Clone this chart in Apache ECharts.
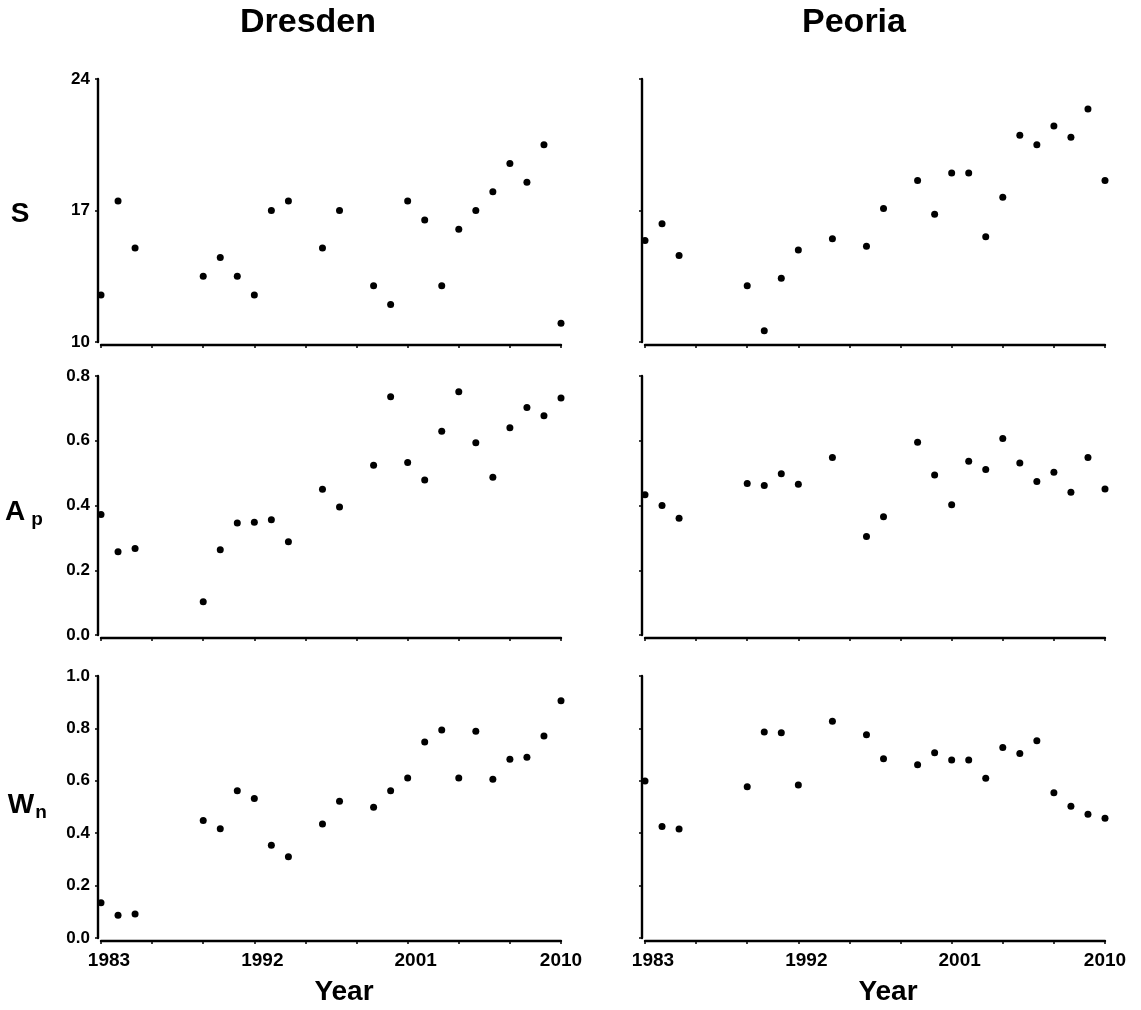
<!DOCTYPE html>
<html>
<head>
<meta charset="utf-8">
<script src="https://cdn.jsdelivr.net/npm/echarts@6/dist/echarts.min.js"></script>
<style>
  html, body { margin: 0; padding: 0; background: #fff; }
  #chart { width: 1141px; height: 1010px; }
</style>
</head>
<body>
<div id="chart"></div>
<script>
// ---- Data ----
const dresdenYears = [1983,1984,1985,1989,1990,1991,1992,1993,1994,1996,1997,1999,2000,2001,2002,2003,2004,2005,2006,2007,2008,2009,2010];
const peoriaYears  = [1983,1984,1985,1989,1990,1991,1992,1994,1996,1997,1999,2000,2001,2002,2003,2004,2005,2006,2007,2008,2009,2010];

const dresdenS  = [12.5,17.5,15.0,13.5,14.5,13.5,12.5,17.0,17.5,15.0,17.0,13.0,12.0,17.5,16.5,13.0,16.0,17.0,18.0,19.5,18.5,20.5,11.0];
const peoriaS   = [15.4,16.3,14.6,13.0,10.6,13.4,14.9,15.5,15.1,17.1,18.6,16.8,19.0,19.0,15.6,17.7,21.0,20.5,21.5,20.9,22.4,18.6];
const dresdenAp = [0.372,0.257,0.267,0.103,0.263,0.346,0.348,0.356,0.288,0.450,0.395,0.524,0.736,0.533,0.479,0.629,0.751,0.594,0.487,0.640,0.703,0.677,0.732];
const peoriaAp  = [0.433,0.400,0.361,0.468,0.462,0.498,0.466,0.548,0.304,0.365,0.595,0.494,0.402,0.537,0.511,0.607,0.531,0.474,0.503,0.441,0.548,0.451];
const dresdenWn = [0.135,0.087,0.092,0.448,0.417,0.562,0.532,0.354,0.310,0.435,0.522,0.499,0.562,0.611,0.748,0.794,0.611,0.789,0.606,0.682,0.690,0.771,0.906];
const peoriaWn  = [0.599,0.426,0.416,0.577,0.786,0.783,0.584,0.827,0.776,0.684,0.661,0.707,0.679,0.679,0.610,0.727,0.704,0.753,0.554,0.503,0.472,0.457];

const sTicks    = [10, 17, 24];
const apTicks   = [0, 0.2, 0.4, 0.6, 0.8];
const wnTicks   = [0, 0.2, 0.4, 0.6, 0.8, 1.0];
const yearLabels = [1983, 1992, 2001, 2010];
const siteTitles = ['Dresden', 'Peoria'];

// ---- Layout ----
const FONT = 'Arial, "Liberation Sans", Helvetica, sans-serif';
const colLeft = [101, 645];
const colWidth = 460;
const rows = [
  { top: 79,  height: 263, ticks: sTicks,  min: 10, max: 24, fmt: v => String(v) },
  { top: 376, height: 259, ticks: apTicks, min: 0,  max: 0.8, fmt: v => v.toFixed(1) },
  { top: 676, height: 262, ticks: wnTicks, min: 0,  max: 1.0, fmt: v => v.toFixed(1) }
];
const seriesData = [
  [[dresdenYears, dresdenS],  [peoriaYears, peoriaS]],
  [[dresdenYears, dresdenAp], [peoriaYears, peoriaAp]],
  [[dresdenYears, dresdenWn], [peoriaYears, peoriaWn]]
];

const grids = [], xAxes = [], yAxes = [], series = [];
let idx = 0;
rows.forEach((r, ri) => {
  [0, 1].forEach(ci => {
    grids.push({ left: colLeft[ci], top: r.top, width: colWidth, height: r.height, containLabel: false });
    const isBottom = ri === rows.length - 1;
    xAxes.push({
      type: 'value', gridIndex: idx, min: 1983, max: 2010, interval: 3, offset: 3,
      axisLine: { show: true, onZero: false, lineStyle: { color: '#000', width: 2.4 } },
      axisTick: { show: true, length: 3, lineStyle: { color: '#000', width: 1.5 } },
      splitLine: { show: false },
      axisLabel: {
        show: isBottom, customValues: yearLabels, margin: 10,
        formatter: v => (v === 2010 ? '{e|' + v + '}' : '{s|' + v + '}'),
        rich: {
          s: { color: '#000', fontSize: 19, fontWeight: 'bold', fontFamily: FONT, padding: [0, 0, 0, 16] },
          e: { color: '#000', fontSize: 19, fontWeight: 'bold', fontFamily: FONT }
        }
      }
    });
    yAxes.push({
      type: 'value', gridIndex: idx, min: r.min, max: r.max, offset: 3,
      axisLine: { show: true, onZero: false, lineStyle: { color: '#000', width: 2.4 } },
      axisTick: { show: true, length: 3, customValues: r.ticks, lineStyle: { color: '#000', width: 1.5 } },
      splitLine: { show: false },
      axisLabel: {
        show: ci === 0, customValues: r.ticks, margin: 8,
        formatter: r.fmt,
        color: '#000', fontSize: 17, fontWeight: 'bold', fontFamily: FONT
      }
    });
    const [xs, ys] = seriesData[ri][ci];
    series.push({
      type: 'scatter', xAxisIndex: idx, yAxisIndex: idx,
      symbol: 'circle', symbolSize: 7, clip: false,
      itemStyle: { color: '#000', opacity: 1 },
      emphasis: { disabled: true },
      data: xs.map((x, i) => [x, ys[i]])
    });
    idx++;
  });
});

const txt = (x, y, text, size, align) => ({
  type: 'text', x: x, y: y,
  style: { text: text, fill: '#000', font: 'bold ' + size + 'px ' + FONT,
           textAlign: align || 'center', textVerticalAlign: 'middle' }
});

const graphics = [
  txt(308, 23, siteTitles[0], 34),
  txt(854, 23, siteTitles[1], 34),
  txt(20, 214, 'S', 28),
  txt(15, 512, 'A', 28),
  txt(37, 520, 'p', 19),
  txt(21, 805, 'W', 28),
  txt(41, 813, 'n', 19),
  txt(344, 992, 'Year', 28),
  txt(888, 992, 'Year', 28)
];

const chart = echarts.init(document.getElementById('chart'), null, { renderer: 'canvas' });
chart.setOption({
  animation: false,
  backgroundColor: '#fff',
  grid: grids,
  xAxis: xAxes,
  yAxis: yAxes,
  series: series,
  graphic: graphics
});
</script>
</body>
</html>
